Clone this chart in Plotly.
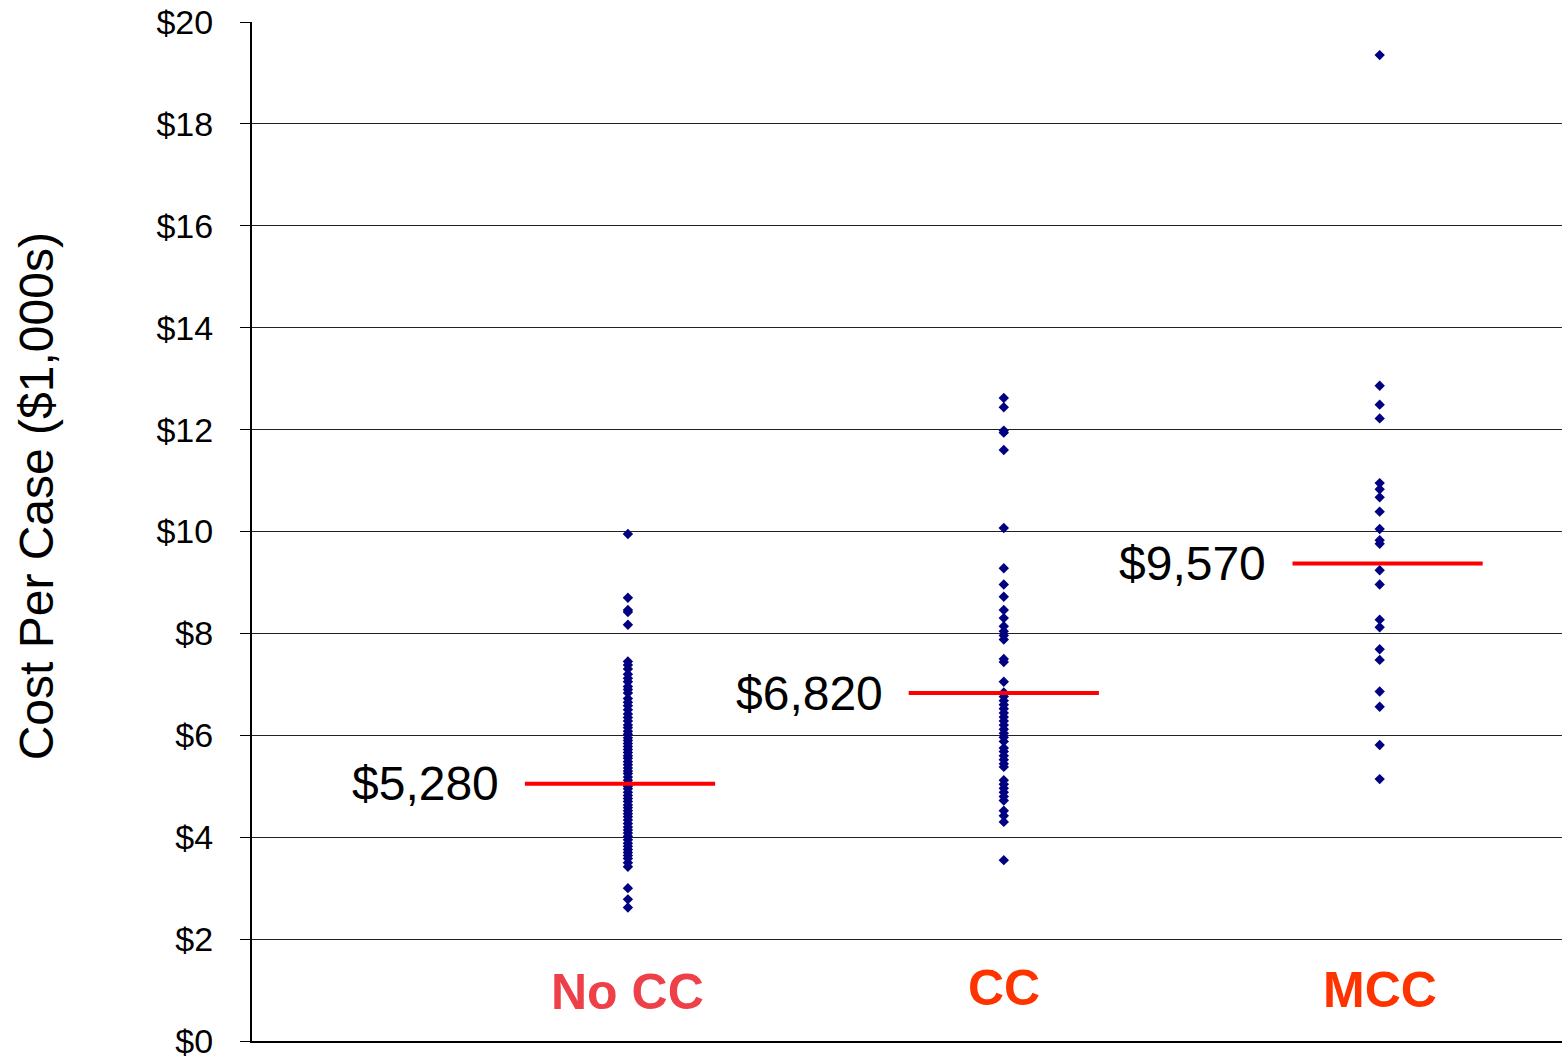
import plotly.graph_objects as go

categories = ["No CC", "CC", "MCC"]
category_colors = ["#EE4048", "#FF3300", "#FF3300"]
label_y = [0.96, 1.04, 1.0]

no_cc = [9.95, 8.70, 8.46, 8.42, 8.17,
         7.45, 7.38, 7.30, 7.20, 7.12, 7.05, 6.96, 6.90, 6.83, 6.72, 6.65, 6.58,
         6.50, 6.42, 6.35, 6.28, 6.20, 6.15, 6.08, 6.02, 5.95, 5.90, 5.84, 5.78,
         5.72, 5.66, 5.60, 5.55, 5.48, 5.42, 5.36, 5.30, 5.25, 5.18, 5.12, 5.06,
         5.00, 4.95, 4.88, 4.82, 4.76, 4.70, 4.63, 4.58, 4.52, 4.46, 4.40, 4.34,
         4.27, 4.20, 4.14, 4.08, 4.02, 3.95, 3.88, 3.82, 3.76, 3.70, 3.64, 3.58,
         3.50, 3.42, 3.00, 2.78, 2.62]

cc = [12.62, 12.44, 11.98, 11.94, 11.60, 10.07, 9.28, 8.96, 8.72, 8.46, 8.30,
      8.14, 8.04, 7.96, 7.88, 7.50, 7.44, 7.05, 6.84, 6.76, 6.68, 6.60, 6.52,
      6.44, 6.36, 6.28, 6.20, 6.12, 6.04, 5.96, 5.88, 5.75, 5.68, 5.60, 5.52,
      5.44, 5.38, 5.12, 5.04, 4.96, 4.88, 4.80, 4.72, 4.52, 4.42, 4.30, 3.55]

mcc = [19.35, 12.86, 12.49, 12.22, 10.95, 10.83, 10.67, 10.39, 10.05, 9.83,
       9.76, 9.24, 8.96, 8.27, 8.12, 7.69, 7.48, 6.86, 6.56, 5.81, 5.14]

line_values = [5.05, 6.83, 9.37]
line_labels = ["$5,280", "$6,820", "$9,570"]

y_ticks = [0, 2, 4, 6, 8, 10, 12, 14, 16, 18, 20]
y_tick_text = ["$0", "$2", "$4", "$6", "$8", "$10", "$12", "$14", "$16", "$18", "$20"]

series = [no_cc, cc, mcc]
FONT = "Arial, Liberation Sans, sans-serif"

fig = go.Figure()
for i, vals in enumerate(series):
    fig.add_trace(go.Scatter(
        x=[i + 1] * len(vals), y=vals, mode="markers",
        marker=dict(symbol="diamond", size=8, color="#000080"),
        showlegend=False, hoverinfo="y"))

for i, v in enumerate(line_values):
    c = i + 1 + (i - 1) * 0.021
    fig.add_trace(go.Scatter(
        x=[c - 0.253, c + 0.253], y=[v, v], mode="lines",
        line=dict(color="#FF0000", width=4), showlegend=False, hoverinfo="skip"))
    fig.add_annotation(x=c - 0.317, y=v, text=line_labels[i], showarrow=False,
                       xanchor="right", yanchor="middle",
                       font=dict(family=FONT, size=48, color="#000000"))

for i, name in enumerate(categories):
    fig.add_annotation(x=i + 1, y=label_y[i], text="<b>%s</b>" % name, showarrow=False,
                       xanchor="center", yanchor="middle",
                       font=dict(family=FONT, size=50, color=category_colors[i]))

fig.add_annotation(xref="paper", yref="paper", x=-0.1645, y=0.534,
                   text="Cost Per Case ($1,000s)", textangle=-90, showarrow=False,
                   xanchor="center", yanchor="middle",
                   font=dict(family=FONT, size=48, color="#000000"))

fig.update_layout(
    width=1562, height=1059,
    margin=dict(l=252, r=0, t=22, b=18),
    paper_bgcolor="white", plot_bgcolor="white",
    font=dict(family=FONT, color="#000000"),
    xaxis=dict(range=[0, 3.485], showticklabels=False, ticks="", showgrid=False,
               zeroline=False, showline=True, linecolor="#000000", linewidth=2,
               fixedrange=True),
    yaxis=dict(range=[0, 20], tickvals=y_ticks, ticktext=y_tick_text,
               ticks="outside", ticklen=10, tickcolor="#000000", tickwidth=1,
               ticklabelstandoff=20, ticklabeloverflow="allow",
               tickfont=dict(family=FONT, size=34, color="#000000"),
               showgrid=True, gridcolor="#222222", gridwidth=1,
               zeroline=False, showline=True, linecolor="#000000", linewidth=2,
               fixedrange=True),
)

fig.write_html(
    "out.html",
    config={"displayModeBar": False},
    post_script="document.body.style.margin='0px';document.body.style.overflow='hidden';",
)
